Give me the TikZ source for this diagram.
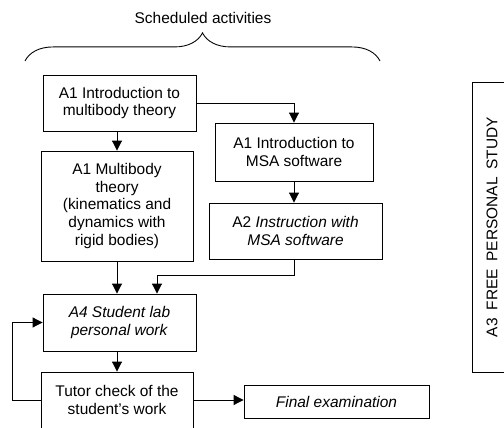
\documentclass[tikz,border=0pt]{standalone}
\usepackage{fontspec}
\setmainfont{Liberation Sans}
\usetikzlibrary{arrows.meta,decorations.pathreplacing}

\begin{document}
\begin{tikzpicture}[x=0.02cm,y=-0.02cm,
  every node/.style={font=\fontsize{8.8}{10.2}\selectfont},
  box/.style={draw,line width=0.5pt,align=center,inner sep=0pt},
  arr/.style={line width=0.5pt,-{Triangle[length=5.6pt,width=5.6pt]}}]
\useasboundingbox (0,0) rectangle (504,428);
\node (title) at (203,18) {Scheduled activities};
\coordinate (bl) at (25,61);
\coordinate (br) at (380,61);
\draw[line width=0.5pt,decorate,decoration={brace,amplitude=16pt}] (bl) -- (br);
\node[box,minimum width=3.06cm,minimum height=1.12cm] (intro) at (119.5,103) {A1 Introduction to\\multibody theory};
\node[box,minimum width=3.04cm,minimum height=2.2cm] (mbt) at (117,206) {A1 Multibody\\theory\\(kinematics and\\dynamics with\\rigid bodies)};
\node[box,minimum width=3.16cm,minimum height=1.16cm] (msa) at (294,152) {A1 Introduction to\\MSA software};
\node[box,minimum width=3.46cm,minimum height=1.12cm] (instr) at (295.5,231) {A2 \textit{Instruction with}\\\textit{MSA software}};
\node[box,minimum width=3.06cm,minimum height=1.14cm] (lab) at (119.5,322.5) {\textit{A4 Student lab}\\\textit{personal work}};
\node[box,minimum width=3.04cm,minimum height=1.12cm] (tutor) at (117,400) {Tutor check of the\\student{\char"27}s work};
\node[box,minimum width=3.7cm,minimum height=0.66cm] (final) at (336.5,401.5) {\textit{Final examination}};
\node[box,rotate=90,minimum width=5.8cm,minimum height=0.8cm] (free) at (492,227)
  {A3\hspace{2pt} FREE\hspace{2pt} PERSONAL\hspace{2pt} STUDY};
\draw[arr] (mbt.north |- intro.south) -- (mbt.north);
\draw[arr] (intro.east) -| (msa.north);
\draw[arr] (msa.south) -- (msa.south |- instr.north);
\draw[arr] (mbt.south) -- (mbt.south |- lab.north);
\draw[arr] (msa.south |- instr.south) -- ++(0,16) -| ([xshift=0.75cm]lab.north);
\draw[arr] (lab.south -| tutor.north) -- (tutor.north);
\draw[arr] (tutor.west) -- ++(-28,0) |- (lab.west);
\draw[arr] (tutor.east) -- (tutor.east -| final.west);
\end{tikzpicture}
\end{document}
